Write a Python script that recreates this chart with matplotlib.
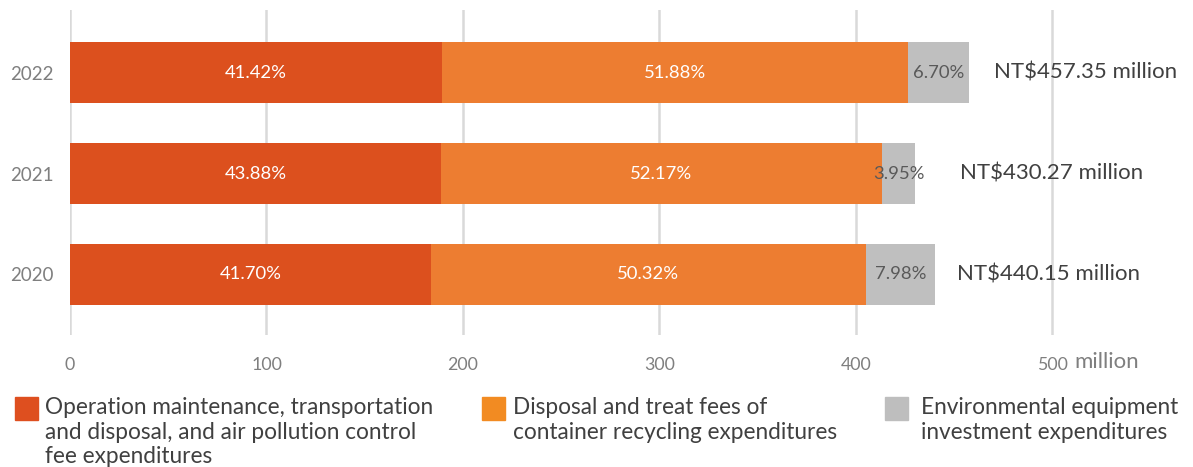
import matplotlib
matplotlib.use("Agg")
import matplotlib.pyplot as plt
from matplotlib.patches import Rectangle

plt.rcParams['font.family'] = ['Lato', 'DejaVu Sans']

years = ["2020", "2021", "2022"]
totals = [440.15, 430.27, 457.35]
pct_operation = [41.70, 43.88, 41.42]
pct_disposal = [50.32, 52.17, 51.88]
pct_equipment = [7.98, 3.95, 6.70]
total_labels = ["NT$440.15 million", "NT$430.27 million", "NT$457.35 million"]
x_ticks = [0, 100, 200, 300, 400, 500]
x_unit = "million"
legend_labels = [
    "Operation maintenance, transportation\nand disposal, and air pollution control\nfee expenditures",
    "Disposal and treat fees of\ncontainer recycling expenditures",
    "Environmental equipment\ninvestment expenditures",
]

bar_colors = ["#DC501E", "#ED7D31", "#BFBFBF"]
legend_colors = ["#DE4F1F", "#F28B22", "#BEBEBE"]
label_colors = ["white", "white", "#595959"]
total_offsets = [22, 45, 25]  # px gap after bar end

W, H = 1193, 467
fig = plt.figure(figsize=(W / 100, H / 100), dpi=100)
ax = fig.add_axes([70/W, 132/H, 1120/W, 325/H])
ax.set_xlim(0, 570)
ax.set_ylim(-0.6, 2.62)

ypos = list(range(len(years)))
series = [pct_operation, pct_disposal, pct_equipment]
lefts = [0.0] * len(years)
for si, pcts in enumerate(series):
    vals = [t * p / 100 for t, p in zip(totals, pcts)]
    ax.barh(ypos, vals, left=lefts, height=0.6, color=bar_colors[si], zorder=3)
    for i, (v, l, p) in enumerate(zip(vals, lefts, pcts)):
        ax.text(l + v / 2, ypos[i], f"{p:.2f}%", ha="center", va="center",
                color=label_colors[si], fontsize=13.3, zorder=4)
    lefts = [l + v for l, v in zip(lefts, vals)]

for i, (t, lab) in enumerate(zip(totals, total_labels)):
    ax.annotate(lab, xy=(t, ypos[i]), xytext=(total_offsets[i], 0),
                textcoords="offset pixels", ha="left", va="center",
                fontsize=16, color="#404040")

ax.set_xticks(x_ticks)
ax.set_xticklabels([str(v) for v in x_ticks])
ax.tick_params(axis="x", length=0, pad=16, labelsize=12.8, labelcolor="#7F7F7F")
ax.set_yticks(ypos)
ax.set_yticklabels(years)
ax.tick_params(axis="y", length=0, pad=12, labelsize=13.5, labelcolor="#7F7F7F")
ax.annotate(x_unit, xy=(511, -0.6), xytext=(0, -27), textcoords="offset pixels",
            ha="left", va="center", fontsize=16, color="#7F7F7F")

for x in x_ticks:
    ax.axvline(x, color="#D9D9D9", lw=1.8, zorder=1)
for s in ax.spines.values():
    s.set_visible(False)

# legend
patch_x = [15, 482, 885]
text_x = [45, 513, 921]
for i in range(3):
    fig.patches.append(Rectangle((patch_x[i]/W, (H-420)/H), 23/W, 23/H,
                                 transform=fig.transFigure, color=legend_colors[i]))
    fig.text(text_x[i]/W, (H-397)/H, legend_labels[i], ha="left", va="top",
             fontsize=16.3, color="#404040", linespacing=1.22)

fig.savefig("out.png", dpi=100)
